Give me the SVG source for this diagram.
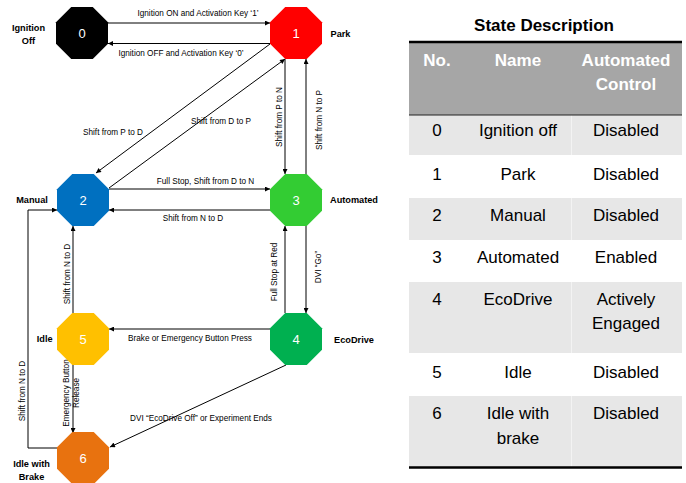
<svg xmlns="http://www.w3.org/2000/svg" width="686" height="483" viewBox="0 0 686 483">
<defs>
<polygon id="oct" points="-10.77,-26 10.77,-26 26,-10.77 26,10.77 10.77,26 -10.77,26 -26,10.77 -26,-10.77"/>
<marker id="arr" viewBox="0 0 10 10" refX="10" refY="5" markerWidth="7" markerHeight="5" orient="auto" markerUnits="userSpaceOnUse"><path d="M0,0 L10,5 L0,10 z" fill="#000"/></marker>
</defs>
<style>
.num{font-family:"Liberation Sans",Arial,sans-serif;font-size:13px;fill:#fff;text-anchor:middle}
.nl{font-family:"Liberation Sans",Arial,sans-serif;font-size:9.2px;font-weight:bold;fill:#000;text-anchor:middle}
.el{font-family:"Liberation Sans",Arial,sans-serif;font-size:8.2px;fill:#000;text-anchor:middle}
.rl{font-family:"Liberation Sans",Arial,sans-serif;font-size:8.2px;fill:#000;text-anchor:middle}
.c{stroke:#000;stroke-width:1;fill:none;marker-end:url(#arr)}
.tt{font-family:"Liberation Sans",Arial,sans-serif;font-size:17px;font-weight:bold;fill:#000;text-anchor:middle}
.th{font-family:"Liberation Sans",Arial,sans-serif;font-size:17px;font-weight:bold;fill:#fff;text-anchor:middle}
.td{font-family:"Liberation Sans",Arial,sans-serif;font-size:17px;fill:#000;text-anchor:middle}
</style>
<rect width="686" height="483" fill="#fff"/>

<g id="connectors">
<line class="c" x1="108" y1="23" x2="270" y2="23"/>
<text class="el" x="198" y="16">Ignition ON and Activation Key ‘1’</text>
<line class="c" x1="270" y1="43.5" x2="108" y2="43.5"/>
<text class="el" x="181" y="55.5">Ignition OFF and Activation Key ‘0’</text>
<line class="c" x1="270" y1="44" x2="96" y2="173"/>
<text class="el" x="113" y="135">Shift from P to D</text>
<line class="c" x1="109" y1="188" x2="285" y2="59"/>
<text class="el" x="221" y="123.5">Shift from D to P</text>
<line class="c" x1="285" y1="59" x2="285" y2="174"/>
<text class="rl" transform="translate(279,117) rotate(-90)" dy="0.35em">Shift from P to N</text>
<line class="c" x1="306" y1="174" x2="306" y2="59"/>
<text class="rl" transform="translate(319,120) rotate(-90)" dy="0.35em">Shift from N to P</text>
<line class="c" x1="109" y1="189" x2="270" y2="189"/>
<text class="el" x="205.5" y="184">Full Stop, Shift from D to N</text>
<line class="c" x1="270" y1="210" x2="109" y2="210"/>
<text class="el" x="193" y="221">Shift from N to D</text>
<line class="c" x1="285" y1="313" x2="285" y2="226"/>
<text class="rl" transform="translate(274.5,272) rotate(-90)" dy="0.35em">Full Stop at Red</text>
<line class="c" x1="306" y1="226" x2="306" y2="313"/>
<text class="rl" transform="translate(318,267) rotate(-90)" dy="0.35em">DVI “Go”</text>
<line class="c" x1="270" y1="329" x2="109" y2="329"/>
<text class="el" x="190" y="341">Brake or Emergency Button Press</text>
<line class="c" x1="73" y1="313" x2="73" y2="226"/>
<text class="rl" transform="translate(67.5,274) rotate(-90)" dy="0.35em">Shift from N to D</text>
<line class="c" x1="73" y1="365" x2="73" y2="433"/>
<text class="rl" transform="translate(66.3,393) rotate(-90)" dy="0.35em">Emergency Button</text>
<text class="rl" transform="translate(76.3,393) rotate(-90)" dy="0.35em">Release</text>
<polyline class="c" points="57,448 28,448 28,210 57,210"/>
<text class="rl" transform="translate(21.7,391) rotate(-90)" dy="0.35em">Shift from N to D</text>
<line class="c" x1="286" y1="365" x2="110" y2="447"/>
<text class="el" x="201" y="420.5">DVI “EcoDrive Off” or Experiment Ends</text>
</g>

<g id="node0">
<use href="#oct" transform="translate(82,33)" fill="#000"/>
<text class="num" x="82" y="37.5">0</text>
<text class="nl" x="28.5" y="31">Ignition</text>
<text class="nl" x="28.5" y="43.5">Off</text>
</g>
<g id="node1">
<use href="#oct" transform="translate(296,33)" fill="#FF0000"/>
<text class="num" x="296" y="37.5">1</text>
<text class="nl" x="340.5" y="36.5">Park</text>
</g>
<g id="node2">
<use href="#oct" transform="translate(83,200)" fill="#0070C0"/>
<text class="num" x="83" y="204.5">2</text>
<text class="nl" x="32" y="203">Manual</text>
</g>
<g id="node3">
<use href="#oct" transform="translate(296,200)" fill="#33CC33"/>
<text class="num" x="296" y="204.5">3</text>
<text class="nl" x="354" y="203">Automated</text>
</g>
<g id="node4">
<use href="#oct" transform="translate(296,339)" fill="#00B050"/>
<text class="num" x="296" y="343.5">4</text>
<text class="nl" x="354" y="343">EcoDrive</text>
</g>
<g id="node5">
<use href="#oct" transform="translate(83,339)" fill="#FFC000"/>
<text class="num" x="83" y="343.5">5</text>
<text class="nl" x="44.7" y="342">Idle</text>
</g>
<g id="node6">
<use href="#oct" transform="translate(83,458)" fill="#E8720F"/>
<text class="num" x="83" y="462.5">6</text>
<text class="nl" x="31.5" y="467">Idle with</text>
<text class="nl" x="31.5" y="480">Brake</text>
</g>

<g id="table">
<text class="tt" x="544" y="31">State Description</text>
<rect x="409" y="42" width="273" height="73" fill="#A6A6A6"/>
<rect x="409" y="115" width="273" height="40" fill="#E7E7E7"/>
<rect x="409" y="198" width="273" height="42" fill="#E7E7E7"/>
<rect x="409" y="282" width="273" height="71" fill="#E7E7E7"/>
<rect x="409" y="396" width="273" height="71" fill="#E7E7E7"/>
<g stroke="#F6F6F6" stroke-width="0.8">
<line x1="571.5" y1="115" x2="571.5" y2="155"/>
<line x1="571.5" y1="198" x2="571.5" y2="240"/>
<line x1="571.5" y1="282" x2="571.5" y2="353"/>
<line x1="571.5" y1="396" x2="571.5" y2="467"/>
</g>
<line x1="409" y1="42" x2="682" y2="42" stroke="#000" stroke-width="2.5"/>
<line x1="409" y1="115" x2="682" y2="115" stroke="#222" stroke-width="1"/>
<line x1="409" y1="467.5" x2="682" y2="467.5" stroke="#000" stroke-width="2.5"/>
<text class="th" x="437" y="66">No.</text>
<text class="th" x="518" y="66">Name</text>
<text class="th" x="626" y="66">Automated</text>
<text class="th" x="626" y="89.5">Control</text>
<text class="td" x="437" y="136">0</text>
<text class="td" x="518" y="136">Ignition off</text>
<text class="td" x="626" y="136">Disabled</text>
<text class="td" x="437" y="179.5">1</text>
<text class="td" x="518" y="179.5">Park</text>
<text class="td" x="626" y="179.5">Disabled</text>
<text class="td" x="437" y="221">2</text>
<text class="td" x="518" y="221">Manual</text>
<text class="td" x="626" y="221">Disabled</text>
<text class="td" x="437" y="263">3</text>
<text class="td" x="518" y="263">Automated</text>
<text class="td" x="626" y="263">Enabled</text>
<text class="td" x="437" y="305">4</text>
<text class="td" x="518" y="305">EcoDrive</text>
<text class="td" x="626" y="305">Actively</text>
<text class="td" x="626" y="329">Engaged</text>
<text class="td" x="437" y="378">5</text>
<text class="td" x="518" y="378">Idle</text>
<text class="td" x="626" y="378">Disabled</text>
<text class="td" x="437" y="419">6</text>
<text class="td" x="518" y="419">Idle with</text>
<text class="td" x="518" y="444">brake</text>
<text class="td" x="626" y="419">Disabled</text>
</g>
</svg>
